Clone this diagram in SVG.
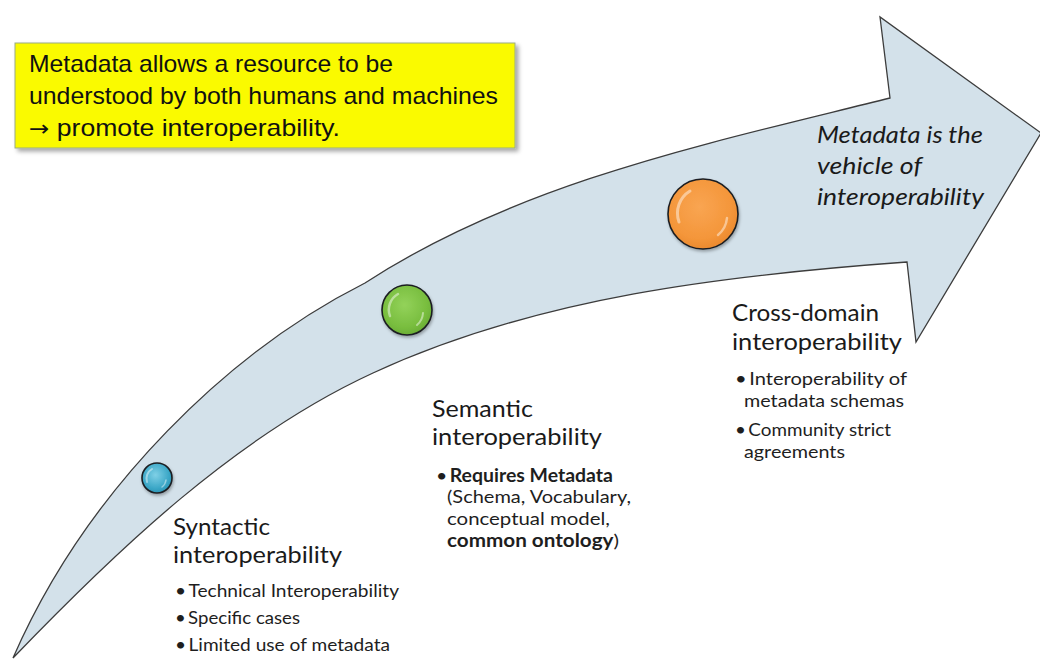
<svg xmlns="http://www.w3.org/2000/svg" width="1040" height="664" viewBox="0 0 1040 664">
  <defs>
    <style>
      .box-text { font-family: "Liberation Sans", Arial, sans-serif; font-size: 24px; fill: #111; }
      .head { font-family: Lato, "Open Sans", sans-serif; font-size: 23px; fill: #1a1a1a; }
      .bul { font-family: Lato, "Open Sans", sans-serif; font-size: 18px; fill: #1e1e1e; }
      .b { font-weight: bold; }
      .ital { font-family: Lato, "Open Sans", sans-serif; font-size: 24px; font-style: italic; fill: #1a1a1a; }
      .arrow { fill: #d3e1ea; stroke: #3c3c3c; stroke-width: 1.3; stroke-linejoin: miter; }
      .ring { stroke: #1b1f22; stroke-width: 1.6; }
      .gloss { fill: none; stroke: #ffffff; stroke-linecap: round; opacity: 0.45; }
    </style>
    <filter id="shadow" x="-5%" y="-10%" width="115%" height="130%">
      <feDropShadow dx="3" dy="3" stdDeviation="2" flood-color="#000" flood-opacity="0.35"/>
    </filter>
    <filter id="cshadow" x="-30%" y="-30%" width="160%" height="160%">
      <feDropShadow dx="1" dy="2" stdDeviation="1.5" flood-color="#000" flood-opacity="0.3"/>
    </filter>
    <radialGradient id="gBlue" cx="0.45" cy="0.4" r="0.65">
      <stop offset="0" stop-color="#7fd0e6"/>
      <stop offset="0.7" stop-color="#3aa6c6"/>
      <stop offset="1" stop-color="#2a8fb0"/>
    </radialGradient>
    <radialGradient id="gGreen" cx="0.45" cy="0.4" r="0.65">
      <stop offset="0" stop-color="#93d25a"/>
      <stop offset="0.7" stop-color="#78bd3e"/>
      <stop offset="1" stop-color="#66a933"/>
    </radialGradient>
    <radialGradient id="gOrange" cx="0.45" cy="0.4" r="0.65">
      <stop offset="0" stop-color="#f9a552"/>
      <stop offset="0.7" stop-color="#f4963a"/>
      <stop offset="1" stop-color="#e8862c"/>
    </radialGradient>
  </defs>

  <rect width="1040" height="664" fill="#ffffff"/>

  <!-- Curved arrow -->
  <g id="arrow">
    <path class="arrow" d="M 13,658 C 88,486 232,350 365,283 C 520,182 710,143 890,98 L 880,17 L 1041,133 L 916,342 L 907,262 C 727,275 537,297 373,373 C 236,436 117,550 13,658 Z"/>
  </g>

  <!-- Callout box -->
  <g id="callout">
    <rect x="15" y="43" width="500" height="105" fill="#fafa00" stroke="#9aab86" stroke-width="1" filter="url(#shadow)"/>
    <text class="box-text" x="29" y="72" textLength="364" lengthAdjust="spacingAndGlyphs">Metadata allows a resource to be</text>
    <text class="box-text" x="29" y="104" textLength="469" lengthAdjust="spacingAndGlyphs">understood by both humans and machines</text>
    <text class="box-text" x="29" y="136" textLength="311" lengthAdjust="spacingAndGlyphs"><tspan font-family="'DejaVu Sans', sans-serif" font-size="22">→</tspan> promote interoperability.</text>
  </g>

  <!-- Stage markers -->
  <g id="dot-syntactic" filter="url(#cshadow)">
    <circle class="ring" cx="157" cy="478" r="15" fill="url(#gBlue)"/>
    <path class="gloss" stroke-width="2" d="M 147,482 A 11,11 0 0 1 152,469"/>
    <path class="gloss" stroke-width="1.5" d="M 166,480 A 10,10 0 0 1 162,487"/>
  </g>
  <g id="dot-semantic" filter="url(#cshadow)">
    <circle class="ring" cx="407" cy="310" r="25" fill="url(#gGreen)"/>
    <path class="gloss" stroke-width="2.5" d="M 390,316 A 18,18 0 0 1 398,294"/>
    <path class="gloss" stroke-width="2" d="M 423,313 A 17,17 0 0 1 417,325"/>
  </g>
  <g id="dot-crossdomain" filter="url(#cshadow)">
    <circle class="ring" cx="703" cy="214" r="35" fill="url(#gOrange)"/>
    <path class="gloss" stroke-width="3" d="M 679,222 A 26,26 0 0 1 690,191"/>
    <path class="gloss" stroke-width="2.5" d="M 727,218 A 25,25 0 0 1 718,235"/>
  </g>

  <!-- Vehicle label -->
  <g id="vehicle-label">
    <text class="ital" x="817" y="143" textLength="166" lengthAdjust="spacingAndGlyphs">Metadata is the</text>
    <text class="ital" x="817" y="174" textLength="105" lengthAdjust="spacingAndGlyphs">vehicle of</text>
    <text class="ital" x="817" y="205" textLength="167" lengthAdjust="spacingAndGlyphs">interoperability</text>
  </g>

  <!-- Syntactic -->
  <g id="syntactic">
    <text class="head" x="173" y="535" textLength="97" lengthAdjust="spacingAndGlyphs">Syntactic</text>
    <text class="head" x="173" y="563" textLength="169" lengthAdjust="spacingAndGlyphs">interoperability</text>
    <text class="bul" x="175" y="597" textLength="224" lengthAdjust="spacingAndGlyphs">•&#8201;Technical Interoperability</text>
    <text class="bul" x="175" y="624" textLength="125" lengthAdjust="spacingAndGlyphs">•&#8201;Specific cases</text>
    <text class="bul" x="175" y="651" textLength="215" lengthAdjust="spacingAndGlyphs">•&#8201;Limited use of metadata</text>
  </g>

  <!-- Semantic -->
  <g id="semantic">
    <text class="head" x="432" y="417" textLength="101" lengthAdjust="spacingAndGlyphs">Semantic</text>
    <text class="head" x="432" y="445" textLength="170" lengthAdjust="spacingAndGlyphs">interoperability</text>
    <text class="bul" x="436" y="482" textLength="177" lengthAdjust="spacingAndGlyphs">•&#8201;<tspan class="b">Requires Metadata</tspan></text>
    <text class="bul" x="447" y="503" textLength="184" lengthAdjust="spacingAndGlyphs">(Schema, Vocabulary,</text>
    <text class="bul" x="447" y="525" textLength="163" lengthAdjust="spacingAndGlyphs">conceptual model,</text>
    <text class="bul" x="447" y="547" textLength="172" lengthAdjust="spacingAndGlyphs"><tspan class="b">common ontology</tspan>)</text>
  </g>

  <!-- Cross-domain -->
  <g id="crossdomain">
    <text class="head" x="732" y="321" textLength="147" lengthAdjust="spacingAndGlyphs">Cross-domain</text>
    <text class="head" x="732" y="350" textLength="170" lengthAdjust="spacingAndGlyphs">interoperability</text>
    <text class="bul" x="735" y="385" textLength="172" lengthAdjust="spacingAndGlyphs">•&#8201;Interoperability of</text>
    <text class="bul" x="744" y="407" textLength="160" lengthAdjust="spacingAndGlyphs">metadata schemas</text>
    <text class="bul" x="735" y="436" textLength="156" lengthAdjust="spacingAndGlyphs">•&#8201;Community strict</text>
    <text class="bul" x="744" y="458" textLength="101" lengthAdjust="spacingAndGlyphs">agreements</text>
  </g>
</svg>
